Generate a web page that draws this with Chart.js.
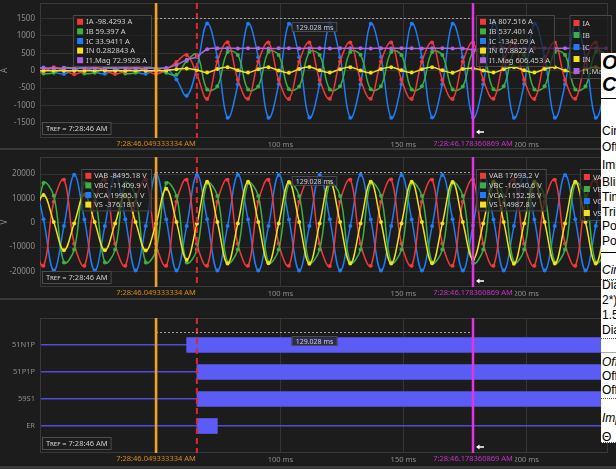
<!DOCTYPE html>
<html>
<head>
<meta charset="utf-8">
<script src="https://cdn.jsdelivr.net/npm/chart.js@4.4.1/dist/chart.umd.min.js"></script>
<style>
html, body { margin: 0; padding: 0; }
body { width: 616px; height: 469px; background: #3a3a3a; position: relative; overflow: hidden; }
.panel { position: absolute; left: 0; width: 616px; background: #1c1c1c; }
#p1 { top: 0; height: 148px; }
#p2 { top: 150px; height: 148px; }
#p3 { top: 300px; height: 166px; }
canvas { display: block; }
#side { position: absolute; left: 601px; top: 53px; width: 15px; height: 390px; background: #fff; overflow: hidden;
        font-family: 'Liberation Sans', Arial, sans-serif; color: #000; }
#side div { position: absolute; left: 1px; white-space: nowrap; font-size: 12px; line-height: 16px; }
#side .h { font-size: 20px; line-height: 20px; font-weight: bold; font-style: italic; }
#side .i { font-style: italic; }
#side .rule { left: 0; width: 15px; height: 0; border-top: 1px solid #000; }
#side .dots { left: 0; width: 15px; height: 0; border-top: 1px dotted #555; }
#side .grey { left: 0; width: 15px; height: 0; border-top: 1px solid #aaa; }
</style>
</head>
<body>
<div class="panel" id="p1"><canvas id="c1" width="616" height="148"></canvas></div>
<div class="panel" id="p2"><canvas id="c2" width="616" height="148"></canvas></div>
<div class="panel" id="p3"><canvas id="c3" width="616" height="166"></canvas></div>
<div id="side">
  <div class="h" style="top:-1px">O</div>
  <div class="h" style="top:21px">C</div>
  <div class="rule" style="top:45px"></div>
  <div style="top:70px">Circuit</div>
  <div style="top:86px">Offset</div>
  <div style="top:104px">Impedance</div>
  <div style="top:121px">Blinder</div>
  <div style="top:136px">Time</div>
  <div style="top:151px">Trip</div>
  <div style="top:165px">Pole</div>
  <div style="top:180px">Pole</div>
  <div class="rule" style="top:199px"></div>
  <div class="i" style="top:209px">Circuit</div>
  <div class="dots" style="top:226px"></div>
  <div style="top:224px">Diameter</div>
  <div style="top:239px">2*)</div>
  <div style="top:254px">1.5</div>
  <div style="top:269px">Diameter</div>
  <div class="dots" style="top:285px"></div>
  <div class="grey" style="top:299px"></div>
  <div class="i" style="top:301px">Offset</div>
  <div style="top:315px">Offset</div>
  <div style="top:329px">Offset</div>
  <div class="dots" style="top:345px"></div>
  <div class="i" style="top:357px">Impedance</div>
  <div style="top:376px">&Theta;</div>
  <div class="dots" style="top:389px"></div>
</div>
<script>
// cursors and reference time
const cursorA = 49.333334;
const cursorB = 178.360869;
const cursorALabel = '7:28:46.049333334 AM';
const cursorBLabel = '7:28:46.178360869 AM';
const trefLabel = 'Tref = 7:28:46 AM';
const triggerMs = 65.98;

// 4 samples per cycle; cursor A is sample 12, cursor B is sample 43
const dt = (cursorB - cursorA) / 31;
const times = Array.from({ length: 58 }, (_, i) => cursorA + (i - 12) * dt);

// axis ticks
const timeTicks = [50, 100, 150, 200];
const currentTicks = [-1500, -1000, -500, 0, 500, 1000, 1500];
const voltageTicks = [-20000, -10000, 0, 10000, 20000];

// currents (A)
const ia = [-97,
  -14, 98, 11, -99,   -10, 100, 14, -97,   -13, 99, 12, -98.4293,
  30, 250, 450, -120,
  -810, 265, 812, -258,   -806, 262, 809, -262,   -811, 258, 806, -265,
  -808, 263, 810, -260,   -805, 266, 808, -262,   -812, 259, 807, -264,
  -809, 261, 807.516, -263,   -807, 264, 811, -259,   -810, 262, 806, -265,
  -808, 260, 809, -262,   -807];
const ib = [58,
  -79, -62, 81, 60,   -82, -58, 79, 61,   -80, -60, 82, 59.397,
  -60, -120, 280, 460,
  -540, -448, 535, 452,   -538, -451, 540, 447,   -534, -452, 536, 450,
  -539, -446, 538, 453,   -535, -449, 537, 451,   -540, -447, 534, 449,
  -537, -452, 537.401, 448,   -536, -450, 539, 451,   -538, -448, 535, 452,
  -537, -450, 538, 449,   -536];
const ic = [35,
  90, -40, -93, 36,   92, -38, -90, 34,   93, -41, -91, 33.9411,
  60, -250, -720, 100,
  1350, 383, -1348, -390,   1344, 388, -1350, -384,   1347, 386, -1345, -388,
  1349, 382, -1347, -387,   1345, 389, -1349, -385,   1348, 384, -1344, -386,
  1346, 387, -1342.09, -388,   1350, 385, -1347, -383,   1345, 389, -1348, -386,
  1347, 384, -1346, -387,   1349];
const iN = [2,
  -3, 4, -2, 1,   -4, 3, 2, -1,   -3, 4, 1, 0.282843,
  8, 40, 65, 20,
  -50, 45, 100, 12,   -55, 42, 96, 8,   -58, 47, 102, 10,
  -53, 44, 98, 6,   -56, 46, 101, 11,   -54, 43, 97, 9,
  -57, 45, 67.8822, 7,   -55, 44, 99, 12,   -52, 46, 100, 8,
  -56, 43, 98, 10,   -54];
const i1Mag = [72.5,
  73.4, 72.8, 73.1, 72.6,   73.3, 72.9, 73.2, 72.7,   73.5, 72.8, 73.0, 72.9928,
  78, 165, 310, 400,
  615, 640, 643, 638,   641, 644, 637, 640,   643, 639, 642, 645,
  638, 641, 644, 640,   637, 642, 639, 643,   640, 638, 644, 641,
  639, 636, 606.453, 640,   643, 641, 638, 642,   640, 644, 639, 641,
  643, 638, 642, 640,   641];

// voltages (V)
const vab = [-8610,
  -17720, 8650, 17680, -8620,   -17690, 8610, 17710, -8655,   -17700, 8640, 17690, -8495.18,
  -17715, 8625, 17700, -8640,
  -17690, 8645, 17685, -8630,   -17710, 8620, 17705, -8650,   -17700, 8635, 17690, -8615,
  -17725, 8650, 17680, -8640,   -17695, 8615, 17710, -8625,   -17705, 8640, 17695, -8645,
  -17690, 8630, 17693.2, -8620,   -17715, 8645, 17700, -8635,   -17700, 8625, 17685, -8650,
  -17710, 8640, 17705, -8630,   -17695];
const vbc = [-11030,
  16320, 11040, -16350, -11000,   16345, 11005, -16320, -11025,   16330, 11020, -16340, -11409.9,
  16335, 11010, -16325, -11030,
  16340, 11025, -16345, -11010,   16325, 11000, -16330, -11035,   16350, 11030, -16320, -11005,
  16330, 11015, -16340, -11020,   16320, 11035, -16350, -11015,   16345, 11010, -16325, -11030,
  16335, 11020, -16540.6, -11010,   16325, 11030, -16345, -11025,   16340, 11005, -16330, -11015,
  16330, 11025, -16340, -11020,   16345];
const vca = [19640,
  1390, -19660, -1360, 19670,   1365, -19640, -1385, 19650,   1380, -19655, -1370, 19905.1,
  1370, -19665, -1380, 19645,
  1385, -19650, -1365, 19660,   1360, -19645, -1390, 19655,   1375, -19670, -1375, 19640,
  1380, -19655, -1360, 19665,   1370, -19640, -1385, 19650,   1365, -19660, -1370, 19645,
  1385, -19650, -1152.58, 19660,   1375, -19645, -1380, 19655,   1360, -19665, -1375, 19650,
  1380, -19655, -1365, 19640,   1370];
const vs = [250,
  11400, 280, -11300, -320,   11450, 260, -11350, -300,   11380, 310, -11420, -376.181,
  14000, 350, -15200, -420,
  16800, 300, -16700, -350,   16850, 280, -16650, -330,   16750, 320, -16800, -300,
  16900, 260, -16700, -340,   16800, 300, -16750, -310,   16850, 290, -16650, -350,
  16750, 310, -14987.8, -320,   16900, 270, -16800, -330,   16800, 300, -16700, -300,
  16850, 280, -16750, -340,   16800];

// digital channels: pickup and dropout times (ms)
const digNames = ['51N1P', '51P1P', '59S1', 'ER'];
const digOn = [61.82, 65.98, 65.98, 65.98];
const digOff = [240, 240, 240, 74.30];

const X_MIN = 2.12, X_MAX = 233.3;
const FONT = "'Noto Sans', sans-serif";
const TXT = '#cfcfcf';
const TICK = '#8e8e8e';
const RED = '#f03a3a', GREEN = '#3cb043', BLUE = '#1f7cf5', YELLOW = '#f2e11c', PURPLE = '#b065e0';
const IDX_A = 12, IDX_B = 43;

function legendBox(c, x, top, rows, rowH, anchorRight) {
  c.font = '7.5px ' + FONT;
  let w = 0;
  rows.forEach(r => { w = Math.max(w, c.measureText(r.text).width); });
  const bw = w + 18, bh = rows.length * rowH + 4;
  const bx = anchorRight ? x - bw : x;
  c.fillStyle = 'rgba(28,28,28,0.72)';
  c.fillRect(bx, top, bw, bh);
  c.strokeStyle = '#4a4a4a';
  c.lineWidth = 1;
  c.strokeRect(bx + 0.5, top + 0.5, bw - 1, bh - 1);
  c.textBaseline = 'middle';
  c.textAlign = 'left';
  rows.forEach((r, j) => {
    const cy = top + 2 + rowH * (j + 0.5);
    c.fillStyle = r.color;
    c.fillRect(bx + 4, cy - 3, 6, 6);
    c.fillStyle = TXT;
    c.fillText(r.text, bx + 13, cy + 0.5);
  });
}

const overlay = {
  id: 'overlay',
  beforeDatasetsDraw(chart) {
    const a = chart.chartArea, c = chart.ctx;
    c.save();
    c.strokeStyle = '#383838';
    c.lineWidth = 1;
    c.strokeRect(a.left + 0.5, a.top + 0.5, a.width - 1, a.height - 1);
    c.restore();
  },
  afterDraw(chart, args, o) {
    const a = chart.chartArea, c = chart.ctx, xs = chart.scales.x;
    const xa = xs.getPixelForValue(cursorA);
    const xb = xs.getPixelForValue(cursorB);
    const xt = xs.getPixelForValue(triggerMs);
    const my = a.top + o.measureY;

    c.save();
    c.beginPath();
    c.rect(a.left, a.top, a.width, a.height);
    c.clip();
    // trigger
    c.setLineDash([6, 4]);
    c.strokeStyle = '#e3262b';
    c.lineWidth = 2;
    c.beginPath(); c.moveTo(xt, a.top); c.lineTo(xt, a.bottom); c.stroke();
    // cursor to cursor span
    c.setLineDash([2, 2]);
    c.strokeStyle = '#a0a0a0';
    c.lineWidth = 1;
    c.beginPath(); c.moveTo(xa, my + 0.5); c.lineTo(xb, my + 0.5); c.stroke();
    c.setLineDash([]);
    c.lineWidth = 2.5;
    c.strokeStyle = '#f2a024';
    c.beginPath(); c.moveTo(xa, a.top); c.lineTo(xa, a.bottom); c.stroke();
    c.strokeStyle = '#e234e2';
    c.beginPath(); c.moveTo(xb, a.top); c.lineTo(xb, a.bottom); c.stroke();
    // small drag handle beside cursor B
    const hy = a.bottom - 6;
    c.fillStyle = '#ffffff';
    c.fillRect(xb + 5, hy - 0.75, 6, 1.5);
    c.beginPath(); c.moveTo(xb + 3, hy); c.lineTo(xb + 6.5, hy - 2.5); c.lineTo(xb + 6.5, hy + 2.5); c.closePath(); c.fill();
    c.restore();

    c.save();
    // span label
    const span = (cursorB - cursorA).toFixed(3) + ' ms';
    c.font = '7px ' + FONT;
    const sw = c.measureText(span).width + 8;
    const sx = (xa + xb) / 2 - sw / 2, sy = my + 4;
    c.fillStyle = 'rgba(30,32,44,0.8)';
    c.fillRect(sx, sy, sw, 10);
    c.strokeStyle = '#4a4a4a';
    c.lineWidth = 1;
    c.strokeRect(sx + 0.5, sy + 0.5, sw - 1, 9);
    c.fillStyle = TXT;
    c.textAlign = 'center';
    c.textBaseline = 'middle';
    c.fillText(span, sx + sw / 2, sy + 5.5);

    // value legends at both cursors, plus the channel legend
    if (o.series) {
      legendBox(c, xa - 4, a.top + 12, o.series.map(s => ({ color: s.color, text: s.name + ' ' + String(s.values[IDX_A]) + ' ' + o.unit })), 9.6, true);
      legendBox(c, xb + 3, a.top + 12, o.series.map(s => ({ color: s.color, text: s.name + ' ' + String(s.values[IDX_B]) + ' ' + o.unit })), 9.6, false);
      legendBox(c, 612, a.top + 12, o.series.map(s => ({ color: s.color, text: s.name })), 12, true);
    }

    // reference time box
    c.font = 'small-caps 7.5px ' + FONT;
    const tw = c.measureText(trefLabel).width + 8;
    const ty = a.bottom - 16;
    c.fillStyle = 'rgba(28,28,28,0.85)';
    c.fillRect(a.left + 2, ty, tw, 13);
    c.strokeStyle = '#4e4e4e';
    c.strokeRect(a.left + 2.5, ty + 0.5, tw - 1, 12);
    c.fillStyle = TXT;
    c.textAlign = 'left';
    c.textBaseline = 'middle';
    c.fillText(trefLabel, a.left + 6, ty + 7);

    // cursor time stamps on the time axis
    c.font = '7.5px ' + FONT;
    c.textAlign = 'center';
    c.textBaseline = 'top';
    [[xa, cursorALabel, '#d98a1c'], [xb, cursorBLabel, '#c832c8']].forEach(([x, txt, col]) => {
      const w = c.measureText(txt).width + 4;
      c.fillStyle = '#1c1c1c';
      c.fillRect(x - w / 2, a.bottom + 1, w, 10);
      c.fillStyle = col;
      c.fillText(txt, x, a.bottom + 2);
    });
    c.restore();
  }
};
Chart.register(overlay);

function fixedTicks(list) {
  return s => { s.ticks = list.map(v => ({ value: v })); };
}

function timeAxis(axisH) {
  return {
    type: 'linear', min: X_MIN, max: X_MAX,
    afterBuildTicks: fixedTicks(timeTicks),
    ticks: { color: TICK, font: { size: 7.5, family: FONT }, padding: 2, maxRotation: 0, autoSkip: false,
             callback: v => v + ' ms' },
    grid: { color: '#353535', drawTicks: false },
    border: { display: false },
    afterFit: s => { s.height = axisH; s.paddingLeft = 0; s.paddingRight = 0; }
  };
}

function analogChart(id, series, unit, yMin, yMax, yTicks, padTop, axisH) {
  return new Chart(document.getElementById(id), {
    type: 'line',
    data: {
      datasets: series.map(s => ({
        label: s.name,
        data: times.map((t, i) => ({ x: t, y: s.values[i] })),
        borderColor: s.color,
        backgroundColor: s.color,
        borderWidth: 1.5,
        pointRadius: 2,
        pointBorderWidth: 0,
        pointHoverRadius: 0,
        tension: 0.4,
        order: s.order
      }))
    },
    options: {
      animation: false, responsive: false, events: [],
      layout: { padding: { top: padTop, right: 8, left: 0, bottom: 0 } },
      plugins: { legend: { display: false }, tooltip: { enabled: false },
                 overlay: { series: series, unit: unit, measureY: 15 } },
      scales: {
        x: timeAxis(axisH),
        y: {
          min: yMin, max: yMax,
          afterBuildTicks: fixedTicks(yTicks),
          ticks: { color: TICK, font: { size: 8, family: FONT }, padding: 5, autoSkip: false, callback: v => String(v) },
          grid: { color: '#323232', drawTicks: false },
          border: { display: false },
          title: { display: true, text: unit, color: TICK, font: { size: 8, family: FONT }, padding: 0 },
          afterFit: s => { s.width = 40; s.paddingTop = 0; s.paddingBottom = 0; }
        }
      }
    }
  });
}

// Currents
analogChart('c1', [
  { name: 'IA', color: RED, values: ia, order: 3 },
  { name: 'IB', color: GREEN, values: ib, order: 4 },
  { name: 'IC', color: BLUE, values: ic, order: 5 },
  { name: 'IN', color: YELLOW, values: iN, order: 1 },
  { name: 'I1.Mag', color: PURPLE, values: i1Mag, order: 0 }
], 'A', -1930, 1940, currentTicks, 3, 10);

// Voltages
analogChart('c2', [
  { name: 'VAB', color: RED, values: vab, order: 3 },
  { name: 'VBC', color: GREEN, values: vbc, order: 2 },
  { name: 'VCA', color: BLUE, values: vca, order: 4 },
  { name: 'VS', color: YELLOW, values: vs, order: 0 }
], 'V', -26400, 27000, voltageTicks, 7, 11);

// Digital elements
new Chart(document.getElementById('c3'), {
  type: 'bar',
  data: {
    labels: [''].concat(digNames, ['']),
    datasets: [{
      data: [null].concat(digNames.map((_, i) => [digOn[i], digOff[i]]), [null]),
      backgroundColor: '#5b5bf6',
      borderWidth: 0,
      barThickness: 15
    }]
  },
  options: {
    indexAxis: 'y',
    animation: false, responsive: false, events: [],
    layout: { padding: { top: 18, right: 8, left: 0, bottom: 0 } },
    plugins: { legend: { display: false }, tooltip: { enabled: false }, overlay: { measureY: 14 } },
    scales: {
      x: timeAxis(13),
      y: {
        type: 'category', offset: false,
        ticks: { color: TICK, font: { size: 7.5, family: FONT }, padding: 5 },
        grid: { offset: false, drawTicks: false, lineWidth: 1.5,
                color: ctx => (ctx.index > 0 && ctx.index <= digNames.length) ? '#4d4dd6' : 'rgba(0,0,0,0)' },
        border: { display: false },
        afterFit: s => { s.width = 40; s.paddingTop = 0; s.paddingBottom = 0; }
      }
    }
  }
});
</script>
</body>
</html>
